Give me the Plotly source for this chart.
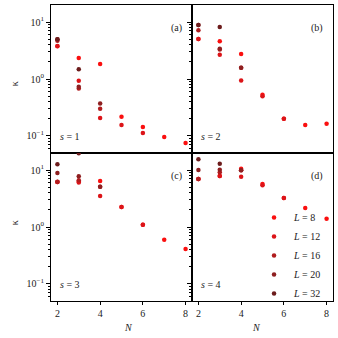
import plotly.graph_objects as go
from plotly.subplots import make_subplots

# data
N_vals = [2, 3, 4, 5, 6, 7, 8]
L_vals = [8, 12, 16, 20, 32]
L_colors = ['#fa0f0f', '#dc1418', '#b01c1e', '#8e1f20', '#6c1c1c']

# kappa per L (rows: L=8,12,16,20,32), columns N=2..8
kappa_s1 = [
    [3.75, 2.34, 1.84, 0.217, 0.144, 0.096, 0.075],
    [3.8, 0.93, 0.206, 0.155, 0.113],
    [4.7, 0.68, 0.30],
    [5.0, 0.73, 0.37],
    [5.0, 1.48],
]
kappa_s2 = [
    [5.06, 4.6, 2.74, 0.53, 0.20, 0.155, 0.164],
    [5.06, 2.67, 0.94, 0.50, 0.20],
    [7.2, 3.3, 1.57],
    [8.9, 3.4, 1.57],
    [8.9, 8.2],
]
kappa_s3 = [
    [6.2, 6.3, 6.4, 2.24, 1.1, 0.60, 0.41],
    [6.2, 6.05, 3.5, 2.24, 1.1],
    [6.25, 6.65, 5.1],
    [8.85, 7.8, 5.1],
    [12.6, 19.7],
]
kappa_s4 = [
    [7.0, 7.9, 10.5, 5.7, 3.24, 2.15, 1.4],
    [7.0, 7.9, 7.6, 5.4, 3.24],
    [7.0, 9.2, 9.9],
    [10.0, 10.1, 9.9],
    [15.5, 12.9],
]

panels = [kappa_s1, kappa_s2, kappa_s3, kappa_s4]
panel_tags = ['(a)', '(b)', '(c)', '(d)']
s_labels = ['1', '2', '3', '4']

FONT = 'Liberation Serif'

fig = make_subplots(rows=2, cols=2, horizontal_spacing=0, vertical_spacing=0)

for p, data in enumerate(panels):
    row, col = p // 2 + 1, p % 2 + 1
    for i, L in enumerate(L_vals):
        ys = data[i]
        fig.add_trace(go.Scatter(
            x=N_vals[:len(ys)], y=ys,
            mode='markers',
            marker=dict(size=4.5, color=L_colors[i]),
            name=f'<i>L</i> = {L}',
            showlegend=(p == 3),
        ), row=row, col=col)

major = [0.1, 1, 10]
major_txt = ['10<sup>−1</sup>', '10<sup>0</sup>', '10<sup>1</sup>']
minor_vals = [0.06, 0.07, 0.08, 0.09,
              0.2, 0.3, 0.4, 0.5, 0.6, 0.7, 0.8, 0.9,
              2, 3, 4, 5, 6, 7, 8, 9]

for p in range(4):
    row, col = p // 2 + 1, p % 2 + 1
    fig.update_yaxes(
        type='log', range=[-1.3, 1.3],
        tickvals=major, ticktext=major_txt,
        showticklabels=(col == 1),
        ticks='outside', ticklen=4, tickwidth=1, tickcolor='black',
        minor=dict(tickvals=minor_vals, ticks='outside', ticklen=2,
                   tickcolor='black', showgrid=False),
        showgrid=False, zeroline=False,
        showline=True, mirror=True, linecolor='black', linewidth=1,
        row=row, col=col)
    fig.update_xaxes(
        range=[1.7, 8.3],
        tickvals=[2, 4, 6, 8],
        showticklabels=(row == 2),
        ticks='outside' if row == 2 else '', ticklen=3, tickcolor='black',
        showgrid=False, zeroline=False,
        showline=True, mirror=True, linecolor='black', linewidth=1,
        row=row, col=col)

# panel tags and s labels
for p in range(4):
    xr = 'x domain' if p == 0 else f'x{p + 1} domain'
    yr = 'y domain' if p == 0 else f'y{p + 1} domain'
    fig.add_annotation(text=panel_tags[p], xref=xr, yref=yr, x=0.94, y=0.9,
                       showarrow=False, font=dict(size=10, family=FONT, color='#222'))
    fig.add_annotation(text=f'<i>s</i> = {s_labels[p]}', xref=xr, yref=yr,
                       x=0.05, y=0.06, xanchor='left', showarrow=False,
                       font=dict(size=10, family=FONT, color='#222'))

# axis titles
for yc in [0.75, 0.25]:
    fig.add_annotation(text='κ', xref='paper', yref='paper', x=-0.155, y=yc,
                       textangle=-90, showarrow=False,
                       font=dict(size=10, family=FONT, color='#222'))
for xc in [0.25, 0.75]:
    fig.add_annotation(text='<i>N</i>', xref='paper', yref='paper', x=xc, y=-0.09,
                       yanchor='middle', showarrow=False,
                       font=dict(size=10, family=FONT, color='#222'))

fig.update_layout(
    width=338, height=338,
    margin=dict(l=51, r=5, t=5, b=37),
    plot_bgcolor='white', paper_bgcolor='white',
    font=dict(family=FONT, size=10, color='#222'),
    showlegend=True,
    legend=dict(x=0.72, y=0.331, xanchor='left', yanchor='top',
                bgcolor='rgba(0,0,0,0)', font=dict(size=10, family=FONT),
                tracegroupgap=0, itemwidth=30),
)

fig.write_html("out.html", config={'displayModeBar': False},
               post_script="document.body.style.margin='0';")
